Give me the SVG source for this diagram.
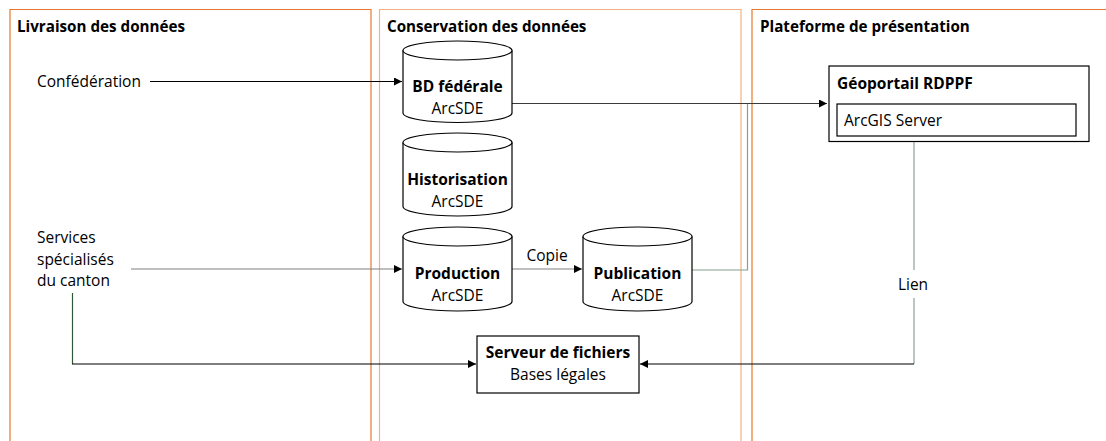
<svg xmlns="http://www.w3.org/2000/svg" width="1106" height="441" viewBox="0 0 1106 441">
<style>
text{font-family:"Open Sans","Noto Sans",sans-serif;font-size:15.5px;fill:#000}
.b{font-weight:bold}
.t{font-size:15.2px}
.m{text-anchor:middle}
.node{fill:#fff;stroke:#000;stroke-width:1.2}
.p1{fill:none;stroke:#E8782E;stroke-width:1.2}
.p2{fill:none;stroke:#F4B183;stroke-width:1.2}
.c{fill:none;stroke-width:1.2}
</style>
<defs>
<marker id="ar" viewBox="0 0 10 10" refX="10" refY="5" markerWidth="9" markerHeight="8" markerUnits="userSpaceOnUse" orient="auto"><path d="M0,0L10,5L0,10z" fill="#000"/></marker>
</defs>
<rect width="1106" height="441" fill="#fff"/>
<g id="panels">
<path class="p1" d="M10,441V9.5H371V441"/>
<path class="p2" d="M379.5,441V9.5H741V441"/>
<path class="p1" d="M752,441V9.5H1107"/>
<text class="b t" x="17" y="32">Livraison des données</text>
<text class="b t" x="387" y="32">Conservation des données</text>
<text class="b t" x="760" y="32">Plateforme de présentation</text>
</g>
<g id="connectors">
<path class="c" stroke="#000" d="M150,81.5H402" marker-end="url(#ar)"/>
<path class="c" stroke="#3a3a3a" d="M512,103.5H827" marker-end="url(#ar)"/>
<path class="c" stroke="#808080" stroke-width="1.6" d="M131,269H402" marker-end="url(#ar)"/>
<path class="c" stroke="#808080" stroke-width="1.4" d="M512,269H582" marker-end="url(#ar)"/>
<path class="c" stroke="#86A08F" stroke-width="1.4" d="M692,270H747.5V104"/>
<path class="c" stroke="#2E5A3C" d="M72.5,293V364"/>
<path class="c" stroke="#000" d="M72,364H476" marker-end="url(#ar)"/>
<path class="c" stroke="#8BA394" stroke-width="1.6" d="M914,142V364"/>
<path class="c" stroke="#000" d="M914,364H640" marker-end="url(#ar)"/>
<rect x="896" y="270" width="36" height="28" fill="#fff"/>
<text class="m" x="913" y="290">Lien</text>
<text class="m" x="547" y="261">Copie</text>
</g>
<g id="confederation"><text x="37" y="87">Confédération</text></g>
<g id="services"><text x="37" y="243">Services</text><text x="37" y="264.5">spécialisés</text><text x="37" y="286">du canton</text></g>
<g id="bd-federale">
<path class="node" d="M403,50.5V113A54.5,9.5 0 0 0 512,113V50.5"/>
<ellipse class="node" cx="457.5" cy="50.5" rx="54.5" ry="9.5"/>
<text class="m b" x="457.5" y="92">BD fédérale</text>
<text class="m" x="457.5" y="114">ArcSDE</text>
</g>
<g id="historisation">
<path class="node" d="M403,142.5V206.5A54.5,9.5 0 0 0 512,206.5V142.5"/>
<ellipse class="node" cx="457.5" cy="142.5" rx="54.5" ry="9.5"/>
<text class="m b" x="457.5" y="185">Historisation</text>
<text class="m" x="457.5" y="207">ArcSDE</text>
</g>
<g id="production">
<path class="node" d="M403,236.5V301.5A54.5,9.5 0 0 0 512,301.5V236.5"/>
<ellipse class="node" cx="457.5" cy="236.5" rx="54.5" ry="9.5"/>
<text class="m b" x="457.5" y="279">Production</text>
<text class="m" x="457.5" y="301">ArcSDE</text>
</g>
<g id="publication">
<path class="node" d="M583,236.5V301.5A54.5,9.5 0 0 0 692,301.5V236.5"/>
<ellipse class="node" cx="637.5" cy="236.5" rx="54.5" ry="9.5"/>
<text class="m b" x="637.5" y="279">Publication</text>
<text class="m" x="637.5" y="301">ArcSDE</text>
</g>
<g id="serveur">
<rect class="node" x="477" y="336" width="162" height="57"/>
<text class="m b" x="558" y="358">Serveur de fichiers</text>
<text class="m" x="558" y="380">Bases légales</text>
</g>
<g id="geoportail">
<rect class="node" x="829" y="66" width="260" height="75.5"/>
<text class="b" x="837" y="89">Géoportail RDPPF</text>
<rect class="node" x="837" y="104" width="239" height="32"/>
<text x="844" y="126">ArcGIS Server</text>
</g>
</svg>
